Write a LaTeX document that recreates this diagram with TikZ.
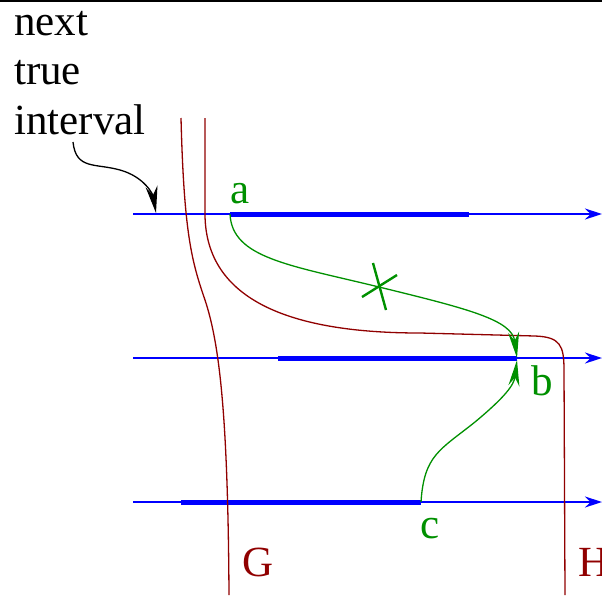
\documentclass[tikz,border=0pt]{standalone}
\usepackage{fontspec}
\setmainfont{Liberation Serif}
\newfontfamily\timesfont{Liberation Serif}
\usetikzlibrary{arrows.meta}
\definecolor{fgreen}{RGB}{0,144,0}
\definecolor{fred}{RGB}{144,0,0}
\definecolor{fblue}{RGB}{0,0,255}
\begin{document}
\begin{tikzpicture}[x=1pt,y=-1pt,
  lbl/.style={font=\timesfont\fontsize{43}{50}\selectfont, inner sep=0pt, anchor=base west},
  axis/.style={fblue, line width=1.4pt, -{Stealth[length=17pt,width=11pt]}},
  interval/.style={fblue, line width=5pt},
  bound/.style={fred, line width=1.3pt},
  path/.style={fgreen, line width=1.3pt, -{Stealth[length=26pt,width=11pt]}},
  cross/.style={fgreen, line width=2.4pt}]
\useasboundingbox (0,0) rectangle (602,595);
\draw[line width=2pt] (0,1) -- (602,1);
% texts
\node[lbl] (t1) at (14,35) {next};
\node[lbl] (t2) at (14,84) {true};
\node[lbl] (t3) at (14,134) {interval};
% axes
\coordinate (l1s) at (133,214); \coordinate (l1e) at (602,214);
\coordinate (l2s) at (133,358); \coordinate (l2e) at (602,358);
\coordinate (l3s) at (133,502); \coordinate (l3e) at (602,502);
\draw[axis] (l1s) -- (l1e);
\draw[axis] (l2s) -- (l2e);
\draw[axis] (l3s) -- (l3e);
% intervals
\coordinate (pa) at (230,214); \coordinate (pa2) at (469,214);
\coordinate (pb1) at (278,358); \coordinate (pb) at (517,358);
\coordinate (pc1) at (181,502); \coordinate (pc) at (421,502);
\draw[interval] (pa) -- (pa2);
\draw[interval] (pb1) -- (pb);
\draw[interval] (pc1) -- (pc);
% G and H
\draw[bound] (181,118) .. controls (184,235) and (192,262) .. (205,300)
  .. controls (220,345) and (228,420) .. (229,595);
\draw[bound] (205,118) -- (205,215) .. controls (206,300) and (290,333) .. (420,333)
  -- (535,336) .. controls (560,337) and (564,345) .. (564,370) -- (565,595);
\node[lbl, text=fred] (G) at (242,576) {G};
\node[lbl, text=fred] (H) at (578,576) {H};
% green labels
\node[lbl, text=fgreen] (a) at (230,203) {a};
\node[lbl, text=fgreen] (b) at (531,395) {b};
\node[lbl, text=fgreen] (c) at (420,538) {c};
% green paths
\coordinate (mx) at (379,287);
\draw[path] (pa) .. controls (232,258) and (289,265) .. (mx)
  .. controls (469,309) and (512,320) .. (pb);
\draw[path] (pc) .. controls (424,455) and (440,450) .. (475,422)
  .. controls (505,397) and (514,385) .. (517,360);
\draw[cross] (362,297) -- (397,275);
\draw[cross] (373,263) -- (386,310);
% pointer arrow
\coordinate (ps) at (73,142);
\coordinate (pe) at (156,213);
\draw[line width=1.3pt, -{Stealth[length=27pt,width=12pt]}] (ps) .. controls (76,170) and (95,163) .. (120,170)
  .. controls (145,177) and (153,195) .. (pe);
\end{tikzpicture}
\end{document}
